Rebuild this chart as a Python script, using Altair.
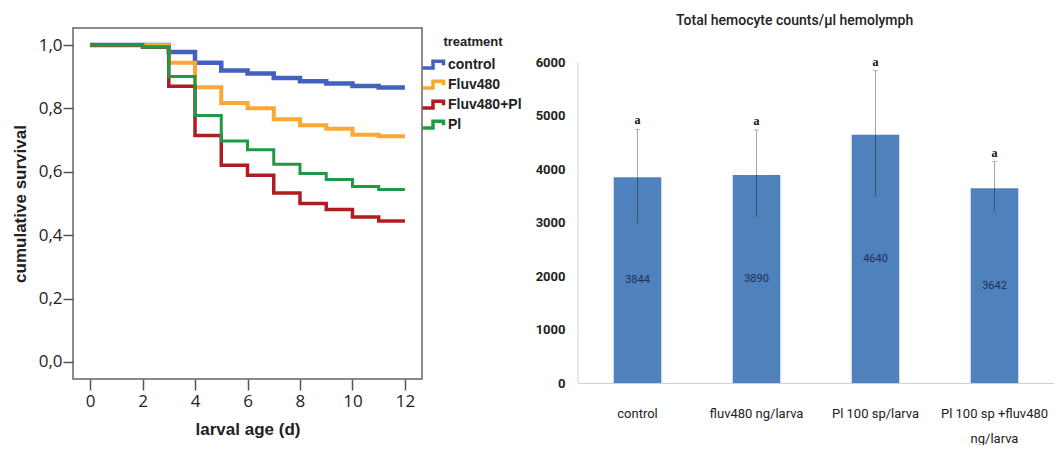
import altair as alt
import pandas as pd

# ---------------- left panel: survival curves ----------------
days = list(range(13))
treatments = ["control", "Fluv480", "Fluv480+Pl", "Pl"]
surv_control = [1.0, 1.0, 1.0, 0.978, 0.944, 0.920, 0.910, 0.896, 0.886, 0.879, 0.871, 0.866, 0.866]
surv_fluv = [1.0, 1.0, 1.0, 0.944, 0.867, 0.817, 0.801, 0.766, 0.747, 0.736, 0.717, 0.712, 0.712]
surv_fluv_pl = [1.0, 1.0, 0.993, 0.870, 0.715, 0.621, 0.589, 0.533, 0.500, 0.481, 0.457, 0.445, 0.445]
surv_pl = [1.0, 1.0, 0.993, 0.901, 0.778, 0.697, 0.670, 0.624, 0.595, 0.576, 0.554, 0.544, 0.544]
colors = ["#4262c0", "#fba832", "#b01c22", "#1d9a46"]
widths = [4.5, 3.0, 3.0, 3.0]
x_ticks = [0, 2, 4, 6, 8, 10, 12]
y_ticks = [0.0, 0.2, 0.4, 0.6, 0.8, 1.0]

rows = []
for name, vals in zip(treatments, [surv_control, surv_fluv, surv_fluv_pl, surv_pl]):
    for d, v in zip(days, vals):
        rows.append({"day": d, "survival": v, "treatment": name})
surv_df = pd.DataFrame(rows)

step_icon = "M-1.6,0.45H-0.2V-0.45H1.2V0.1"

left = alt.Chart(surv_df).mark_line(interpolate="step-after").encode(
    x=alt.X("day:Q", scale=alt.Scale(domain=[-0.65, 12.65], nice=False, zero=False),
            axis=alt.Axis(values=x_ticks, title="larval age (d)", grid=False, domain=False,
                          tickSize=11, tickColor="#555", tickWidth=1.5, labelPadding=3,
                          labelFont="Open Sans", labelFontSize=17, labelColor="#222",
                          titleFont="Liberation Sans", titleFontSize=17, titleFontWeight="bold",
                          titleColor="#222", titlePadding=12)),
    y=alt.Y("survival:Q", scale=alt.Scale(domain=[-0.054, 1.054], nice=False, zero=False),
            axis=alt.Axis(values=y_ticks, title="cumulative survival", grid=False, domain=False,
                          tickSize=10, tickColor="#555", tickWidth=1.5, labelPadding=1,
                          labelExpr="replace(format(datum.value, '.1f'), '.', ',')",
                          labelFont="Open Sans", labelFontSize=17, labelColor="#222",
                          titleFont="Liberation Sans", titleFontSize=17, titleFontWeight="bold",
                          titleColor="#222", titlePadding=9)),
    color=alt.Color("treatment:N", sort=treatments,
                    scale=alt.Scale(domain=treatments, range=colors),
                    legend=alt.Legend(title="treatment", orient="none", legendX=352, legendY=8,
                                      symbolType=step_icon, symbolSize=225, symbolStrokeWidth=3.5,
                                      symbolFillColor="transparent", rowPadding=-2,
                                      labelFont="Liberation Sans", labelFontSize=14,
                                      labelFontWeight="bold", labelColor="#222", labelOffset=4,
                                      titleFont="Liberation Sans", titleFontSize=13,
                                      titleFontWeight="bold", titleColor="#222",
                                      titleAnchor="middle", titlePadding=6)),
    strokeWidth=alt.StrokeWidth("treatment:N", scale=alt.Scale(domain=treatments, range=widths),
                                legend=None),
    order=alt.Order("day:Q"),
).properties(width=349, height=351,
             view=alt.ViewBackground(stroke="#666", strokeWidth=1.5))

# ---------------- right panel: hemocyte counts ----------------
groups = ["control", "fluv480 ng/larva", "Pl 100 sp/larva", "Pl 100 sp +fluv480\nng/larva"]
means = [3844, 3890, 4640, 3642]
err_low = [2990, 3110, 3490, 3200]
err_high = [4740, 4730, 5840, 4140]
letters = ["a", "a", "a", "a"]
count_ticks = [0, 1000, 2000, 3000, 4000, 5000, 6000]
axis_span = [0, 6000]

bar_df = pd.DataFrame({"group": groups, "mean": means, "low": err_low, "high": err_high,
                       "letter": letters})
bar_df["half"] = bar_df["mean"] / 2
span_df = pd.DataFrame({"y0": [axis_span[0]], "y1": [axis_span[1]]})

font2 = "Roboto"
yscale = alt.Scale(domain=[0, 6636], nice=False)
xenc = alt.X("group:N", sort=groups, scale=alt.Scale(paddingInner=0.6, paddingOuter=0.3),
             axis=alt.Axis(title=None, labelAngle=0, ticks=False, domainColor="#d0d0d0",
                           labelPadding=24, labelFont=font2, labelFontSize=13,
                           labelColor="#222", labelLineHeight=25, labelLimit=200,
                           labelExpr="split(datum.label, '\\n')"))

bars = alt.Chart(bar_df).mark_bar(color="#4f81bd").encode(
    x=xenc,
    y=alt.Y("mean:Q", scale=yscale,
            axis=alt.Axis(values=count_ticks, title=None, grid=False, domain=False, ticks=False,
                          format="d", labelPadding=13, labelFont=font2, labelFontSize=13,
                          labelFontWeight="bold", labelColor="#222")),
)
yaxis_line = alt.Chart(span_df).mark_rule(color="#d0d0d0", strokeWidth=1).encode(
    x=alt.value(0), y=alt.Y("y0:Q", scale=yscale), y2="y1:Q")
errs = alt.Chart(bar_df).mark_rule(color="black", opacity=0.35, strokeWidth=1).encode(
    x=alt.X("group:N", sort=groups), y="low:Q", y2="high:Q")
caps_hi = alt.Chart(bar_df).mark_tick(color="#999", size=5, thickness=1, orient="horizontal").encode(
    x=alt.X("group:N", sort=groups), y="high:Q")
caps_lo = alt.Chart(bar_df).mark_tick(color="#666", size=5, thickness=1, orient="horizontal").encode(
    x=alt.X("group:N", sort=groups), y="low:Q")
vals = alt.Chart(bar_df).mark_text(font=font2, fontSize=11, color="#1f2f55").encode(
    x=alt.X("group:N", sort=groups), y="half:Q", text="mean:Q")
lets = alt.Chart(bar_df).mark_text(font="Liberation Serif", fontSize=12, fontWeight="bold",
                                   color="#111", dy=-9).encode(
    x=alt.X("group:N", sort=groups), y="high:Q", text="letter:N")

right = alt.layer(bars, yaxis_line, errs, caps_hi, caps_lo, vals, lets).properties(
    width=476, height=355,
    title=alt.Title("Total hemocyte counts/µl hemolymph", font=font2, fontSize=14,
                    fontWeight=500, color="#222", anchor="middle", frame="bounds", offset=0))

chart = alt.hconcat(left, right, spacing=156, bounds="flush").properties(
    padding={"left": 10, "top": 14, "right": 0, "bottom": 0}
).configure_view(strokeWidth=0).resolve_scale(color="independent", y="independent",
                                               x="independent")

chart.save("out.html", embed_options={"renderer": "svg", "actions": False})
